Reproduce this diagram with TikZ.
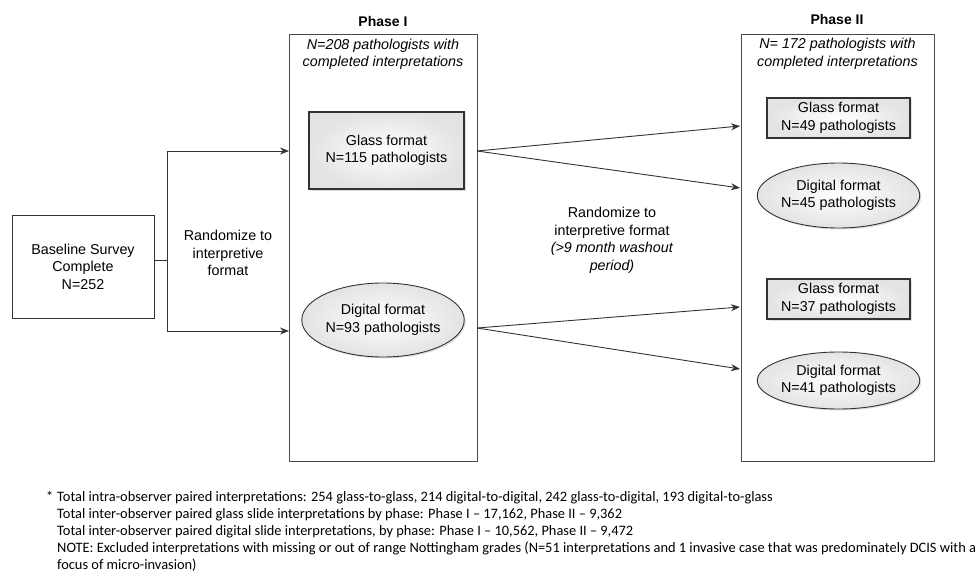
\documentclass[tikz,border=0pt]{standalone}
\usepackage{fontspec}
\setmainfont{Liberation Sans}
\newfontfamily\notefont{Carlito}
\usetikzlibrary{shapes.geometric,arrows.meta,shadows}
\definecolor{linec}{HTML}{333333}
\definecolor{framec}{HTML}{4A4A4A}
\begin{document}
\begin{tikzpicture}[x=1pt,y=-1pt,
  every node/.style={font=\fontsize{14.3}{17.5}\selectfont, align=center, inner sep=0pt},
  frame/.style={draw=framec, line width=0.9pt},
  plainbox/.style={draw=linec, line width=0.9pt, fill=white},
  shadebox/.style={draw=linec, line width=1.4pt, inner color=white, outer color=gray!22,
     drop shadow={shadow xshift=1.5pt, shadow yshift=-1.5pt, fill=gray!40, opacity=0.6}},
  shadeell/.style={ellipse, draw=linec, line width=0.9pt, inner color=white, outer color=gray!22,
     drop shadow={shadow xshift=1.5pt, shadow yshift=-1.5pt, fill=gray!40, opacity=0.6}},
  conn/.style={draw=linec, line width=0.9pt},
  arr/.style={conn, -{Stealth[length=9pt,width=7pt]}},
  ttl/.style={font=\fontsize{14}{17}\selectfont\bfseries},
  note/.style={font=\fontsize{14.4}{17}\selectfont\notefont, align=left, anchor=north west}
]
\useasboundingbox (0,0) rectangle (976,572);

% Titles
\node[ttl] (t1) at (383,21) {Phase I};
\node[ttl] (t2) at (837,19) {Phase II};

% Phase frames
\node[frame, minimum width=188pt, minimum height=427pt] (p1) at (383,247.5) {};
\node[frame, minimum width=193pt, minimum height=427pt] (p2) at (837.5,247.5) {};

\node[font=\fontsize{14.3}{17.5}\selectfont\itshape] (p1t) at (383,54.5)
  {N=208 pathologists with\\completed interpretations};
\node[font=\fontsize{14.3}{17.5}\selectfont\itshape] (p2t) at (837.5,54)
  {N= 172 pathologists with\\completed interpretations};

% Baseline
\node[plainbox, minimum width=142pt, minimum height=103pt] (base) at (83,266.5)
  {Baseline Survey\\Complete\\N=252};

% Phase I nodes
\node[shadebox, minimum width=155pt, minimum height=77pt] (g1) at (386.5,150.5)
  {Glass format\\N=115 pathologists};
\node[shadeell, minimum width=162pt, minimum height=74pt] (d1) at (383,320)
  {Digital format\\N=93 pathologists};

% Phase II nodes
\node[shadebox, line width=1.2pt, minimum width=143pt, minimum height=40pt] (g2a) at (838.5,118)
  {Glass format\\N=49 pathologists};
\node[shadeell, minimum width=143pt, minimum height=65pt] (d2a) at (838.5,195.5)
  {Digital format\\N=45 pathologists};
\node[shadebox, line width=1.2pt, minimum width=143pt, minimum height=40pt] (g2b) at (838.5,299)
  {Glass format\\N=37 pathologists};
\node[shadeell, minimum width=143pt, minimum height=57pt] (d2b) at (838.5,380.5)
  {Digital format\\N=41 pathologists};

% Labels
\node (r1) at (228,253) {Randomize to\\interpretive\\format};
\node (r2) at (612,240.5) {Randomize to\\interpretive format\\\textit{(>9 month washout}\\\textit{period)}};

% Connectors left
\coordinate (split) at (167,260);
\coordinate (a1) at (289,151);
\coordinate (a2) at (289,331);
\draw[conn] (base.east |- split) -- (split);
\draw[arr] (split) |- (a1);
\draw[arr] (split) |- (a2);

% Connectors middle
\coordinate (o1) at (477,151);
\coordinate (o2) at (477,328);
\coordinate (b1) at (740,126);
\coordinate (b2) at (740,188);
\coordinate (b3) at (740,307);
\coordinate (b4) at (740,369);
\draw[arr] (o1) -- (b1);
\draw[arr] (o1) -- (b2);
\draw[arr] (o2) -- (b3);
\draw[arr] (o2) -- (b4);

% Footnote
\node[note] (ast) at (46,491) {*};
\node[note] (fn) at (57,491)
  {Total intra-observer paired interpretations: 254 glass-to-glass, 214 digital-to-digital, 242 glass-to-digital, 193 digital-to-glass\\
   Total inter-observer paired glass slide interpretations by phase: Phase I – 17,162, Phase II – 9,362\\
   Total inter-observer paired digital slide interpretations, by phase: Phase I – 10,562, Phase II – 9,472\\
   NOTE: Excluded interpretations with missing or out of range Nottingham grades (N=51 interpretations and 1 invasive case that was predominately DCIS with a\\
   focus of micro-invasion)};
\end{tikzpicture}
\end{document}
